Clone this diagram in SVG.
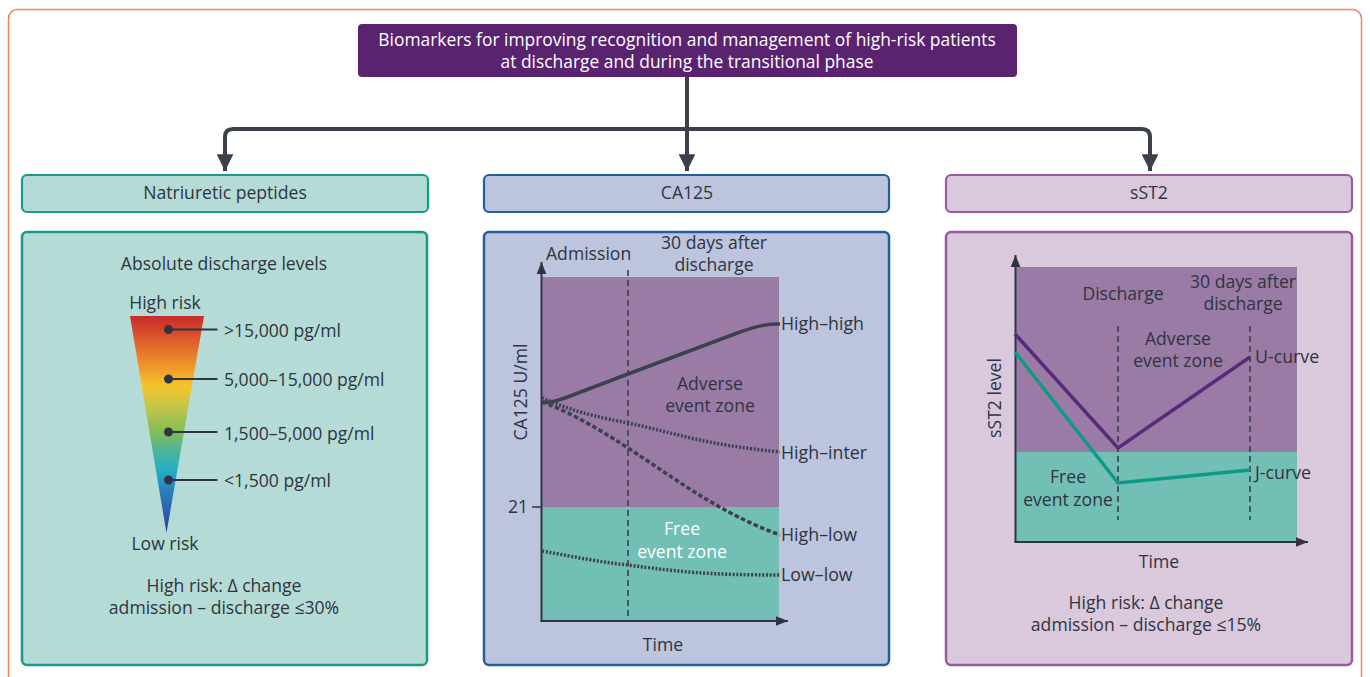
<svg xmlns="http://www.w3.org/2000/svg" width="1370" height="677" viewBox="0 0 1370 677">
<defs>
<style>
text{font-family:"Open Sans","Liberation Sans",Arial,sans-serif;font-size:17.6px;fill:#2F3440}
.c{text-anchor:middle}
.w{fill:#FFFFFF}
.t{font-size:17.4px}
.lbl{font-size:17.8px}
.conn{fill:none;stroke:#3B404B;stroke-width:4;stroke-linejoin:round}
.axis{fill:none;stroke:#2F3440;stroke-width:2}
.vdash{fill:none;stroke:#3B404B;stroke-width:1.6;stroke-dasharray:6 4}
.crv{fill:none;stroke:#3B424E;stroke-width:3.5}
</style>
<marker id="arr" viewBox="0 0 10 10" refX="10" refY="5" markerWidth="4.2" markerHeight="4.2" orient="auto" markerUnits="strokeWidth">
<path d="M0,0 L10,5 L0,10 Z" fill="#3B404B"/>
</marker>
<marker id="axarr" viewBox="0 0 10 10" refX="10" refY="5" markerWidth="6" markerHeight="6" orient="auto" markerUnits="strokeWidth">
<path d="M0,1 L10,5 L0,9 Z" fill="#2F3440"/>
</marker>
<linearGradient id="risk" x1="0" y1="316" x2="0" y2="533" gradientUnits="userSpaceOnUse">
<stop offset="0" stop-color="#C62B2A"/>
<stop offset="0.13" stop-color="#E2642A"/>
<stop offset="0.23" stop-color="#EE952A"/>
<stop offset="0.32" stop-color="#F6C42A"/>
<stop offset="0.41" stop-color="#C9C64A"/>
<stop offset="0.53" stop-color="#84BD54"/>
<stop offset="0.62" stop-color="#4DB598"/>
<stop offset="0.71" stop-color="#25AEC8"/>
<stop offset="0.81" stop-color="#2A7EBC"/>
<stop offset="1" stop-color="#2E3E9C"/>
</linearGradient>
</defs>

<rect x="8.5" y="9.5" width="1353" height="700" rx="9" fill="#FFFFFF" stroke="#E8885C" stroke-width="1.5"/>

<g id="connectors">
<path class="conn" d="M687,77 V171" marker-end="url(#arr)"/>
<path class="conn" d="M225,171 V137 Q225,129 233,129 H1142 Q1150,129 1150,137 V171" marker-end="url(#arr)"/>
<path class="conn" d="M225,140 V171" marker-end="url(#arr)"/>
</g>

<g id="title">
<rect x="358" y="24" width="659" height="53" rx="4" fill="#5A2370"/>
<text class="c w t" x="687" y="46">Biomarkers for improving recognition and management of high-risk patients</text>
<text class="c w t" x="687" y="68">at discharge and during the transitional phase</text>
</g>

<g id="np-header">
<rect x="22" y="175" width="406" height="37" rx="5" fill="#B5DBD6" stroke="#179A87" stroke-width="2.2"/>
<text class="c" x="225" y="199">Natriuretic peptides</text>
</g>
<g id="ca125-header">
<rect x="484" y="175" width="405" height="37" rx="5" fill="#BCC4DE" stroke="#1F5F9E" stroke-width="2.2"/>
<text class="c" x="687" y="199">CA125</text>
</g>
<g id="sst2-header">
<rect x="946" y="175" width="406" height="37" rx="5" fill="#DAC8DC" stroke="#9B5A9E" stroke-width="2.2"/>
<text class="c" x="1149" y="199">sST2</text>
</g>

<g id="np-panel">
<rect x="22" y="232" width="405" height="433" rx="5" fill="#B5DBD6" stroke="#179A87" stroke-width="2.5"/>
<text class="c" x="224" y="270">Absolute discharge levels</text>
<text class="c" x="165" y="309">High risk</text>
<polygon points="130,316 204,316 166.5,533" fill="url(#risk)"/>
<g fill="#2F3440" stroke="#2F3440" stroke-width="2">
<circle cx="168.5" cy="329.5" r="3.5"/>
<circle cx="168.5" cy="379" r="3.5"/>
<circle cx="168.5" cy="432" r="3.5"/>
<circle cx="168.5" cy="480" r="3.5"/>
<line x1="168.5" y1="329.5" x2="217.5" y2="329.5"/>
<line x1="168.5" y1="379" x2="217.5" y2="379"/>
<line x1="168.5" y1="432" x2="217.5" y2="432"/>
<line x1="168.5" y1="480" x2="217.5" y2="480"/>
</g>
<text x="224" y="337">&gt;15,000 pg/ml</text>
<text x="224" y="386">5,000–15,000 pg/ml</text>
<text x="224" y="440">1,500–5,000 pg/ml</text>
<text x="224" y="487">&lt;1,500 pg/ml</text>
<text class="c" x="165" y="550">Low risk</text>
<text class="c" x="224" y="592">High risk: Δ change</text>
<text class="c" x="224" y="614">admission – discharge ≤30%</text>
</g>

<g id="ca125-panel">
<rect x="484" y="232" width="405" height="433" rx="5" fill="#BCC4DE" stroke="#1F5F9E" stroke-width="2.5"/>
<rect x="542" y="277" width="237" height="230" fill="#9A7BA6"/>
<rect x="542" y="507" width="237" height="114" fill="#72BFB6"/>
<line class="vdash" x1="628" y1="270" x2="628" y2="621"/>
<path class="axis" d="M541.5,621 V262" marker-end="url(#axarr)"/>
<path class="axis" d="M540.5,621 H788" marker-end="url(#axarr)"/>
<line x1="532" y1="507" x2="541" y2="507" stroke="#2F3440" stroke-width="1.5"/>
<text x="508" y="513">21</text>
<text class="c" transform="translate(527,392) rotate(-90)">CA125 U/ml</text>
<text x="546" y="260">Admission</text>
<text class="c" x="714" y="249">30 days after</text>
<text class="c" x="714" y="271">discharge</text>
<text class="c" x="710" y="390">Adverse</text>
<text class="c" x="710" y="412">event zone</text>
<text class="c w" x="682" y="535">Free</text>
<text class="c w" x="682" y="558">event zone</text>
<path class="crv" d="M542,402 C550,403 556,401 565,398 L628,374 L740,332 C760,325 768,324 780,324"/>
<path class="crv" stroke-dasharray="2 1.7" d="M542,398 C560,405 575,413 628,423 C680,434 700,444 780,452"/>
<path class="crv" stroke-dasharray="4.5 2.5" d="M542,402 C560,408 590,423 628,448 C680,482 720,513 780,535"/>
<path class="crv" stroke-dasharray="2 1.7" d="M542,551 C580,558 600,562 628,565 C680,572 710,575 780,575"/>
<text class="lbl" x="781" y="330">High–high</text>
<text class="lbl" x="781" y="459">High–inter</text>
<text class="lbl" x="781" y="541">High–low</text>
<text class="lbl" x="781" y="581">Low–low</text>
<text class="c" x="663" y="651">Time</text>
</g>

<g id="sst2-panel">
<rect x="946" y="232" width="406" height="433" rx="5" fill="#DAC8DC" stroke="#9B5A9E" stroke-width="2.5"/>
<rect x="1016" y="267" width="281" height="185" fill="#9A7BA6"/>
<rect x="1016" y="452" width="281" height="90" fill="#72BFB6"/>
<line class="vdash" x1="1118" y1="326" x2="1118" y2="520"/>
<line class="vdash" x1="1250" y1="326" x2="1250" y2="520"/>
<path class="axis" d="M1015.5,542 V255" marker-end="url(#axarr)"/>
<path class="axis" d="M1014.5,542 H1308" marker-end="url(#axarr)"/>
<text class="c" transform="translate(1001,398) rotate(-90)">sST2 level</text>
<text class="c" x="1123" y="300">Discharge</text>
<text class="c" x="1243" y="288">30 days after</text>
<text class="c" x="1243" y="310">discharge</text>
<text class="c" x="1178" y="345">Adverse</text>
<text class="c" x="1178" y="367">event zone</text>
<text class="c" x="1068" y="483">Free</text>
<text class="c" x="1068" y="506">event zone</text>
<path fill="none" stroke="#5A2A7A" stroke-width="3.5" d="M1015,334 L1118,448 L1250,357"/>
<path fill="none" stroke="#0F9A86" stroke-width="3.5" d="M1015,352 L1118,483 L1250,470"/>
<text class="lbl" x="1255" y="363">U-curve</text>
<text class="lbl" x="1255" y="479">J-curve</text>
<text class="c" x="1159" y="568">Time</text>
<text class="c" x="1146" y="609">High risk: Δ change</text>
<text class="c" x="1146" y="631">admission – discharge ≤15%</text>
</g>
</svg>
